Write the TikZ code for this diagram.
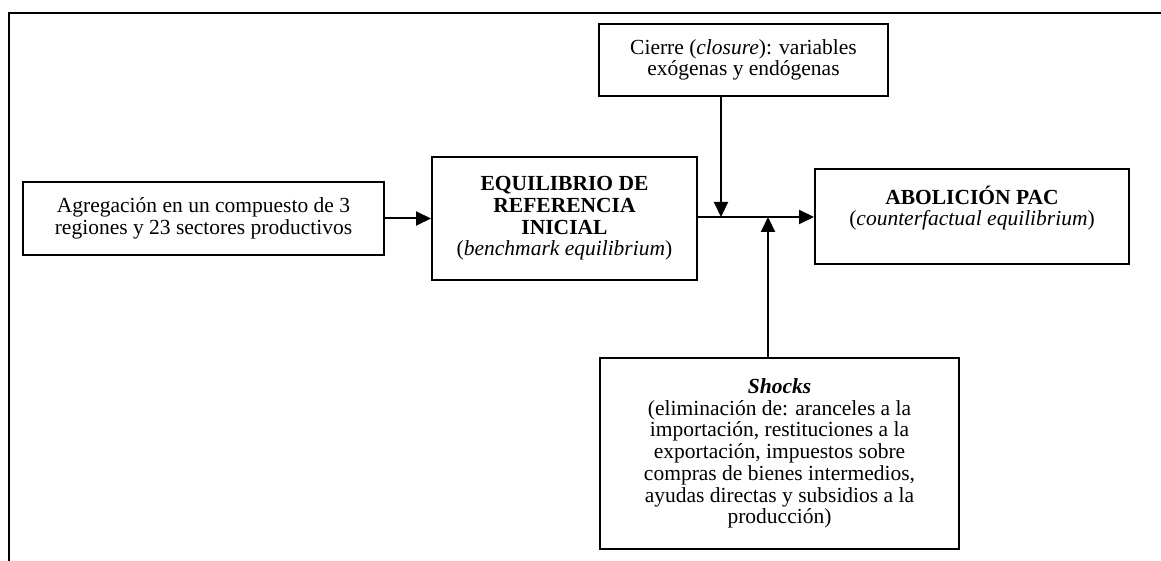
\documentclass[tikz,border=0pt]{standalone}
\usepackage{fontspec}
\setmainfont{Liberation Serif}
\usetikzlibrary{arrows.meta}

\begin{document}
\begin{tikzpicture}[
        x=1pt, y=-1pt,
        font=\fontsize{21.5}{21.7}\selectfont,
        box/.style = {draw, line width=2pt, align=center, inner sep=0pt},
        conn/.style = {draw, line width=2pt, -{Triangle[length=15pt, width=14pt]}}
    ]
 \useasboundingbox (0,0) rectangle (1161,561);
 \draw[line width=2.5pt] (9,561) -- (9,13) -- (1161,13);
 \node[box, minimum width=361pt, minimum height=73pt] (agreg) at (203.5,218.5)
     {Agregación en un compuesto de 3\\regiones y 23 sectores productivos};
 \node[box, minimum width=265pt, minimum height=123pt] (bench) at (564.5,218.5)
     {\textbf{EQUILIBRIO DE}\\\textbf{REFERENCIA}\\\textbf{INICIAL}\\(\textit{benchmark equilibrium})};
 \node[box, minimum width=289pt, minimum height=72pt] (cierre) at (743.5,60)
     {Cierre (\textit{closure}): variables\\exógenas y endógenas};
 \node[box, minimum width=314pt, minimum height=95pt] (pac) at (972,216.5)
     {\textbf{ABOLICIÓN PAC}\\(\textit{counterfactual equilibrium})\\\mbox{}};
 \node[box, minimum width=359pt, minimum height=191pt] (shocks) at (779.5,453.5)
     {\textbf{\textit{Shocks}}\\(eliminación de: aranceles a la\\importación, restituciones a la\\exportación, impuestos sobre\\compras de bienes intermedios,\\ayudas directas y subsidios a la\\producción)};
 \coordinate (jc) at (721,217);
 \coordinate (js) at (768,217);
 \draw[conn] (agreg.east) -- (bench.west);
 \draw[conn] (bench.east |- jc) -- (pac.west |- jc);
 \draw[conn] (cierre.south -| jc) -- (jc);
 \draw[conn] (shocks.north -| js) -- (js);
\end{tikzpicture}
\end{document}
